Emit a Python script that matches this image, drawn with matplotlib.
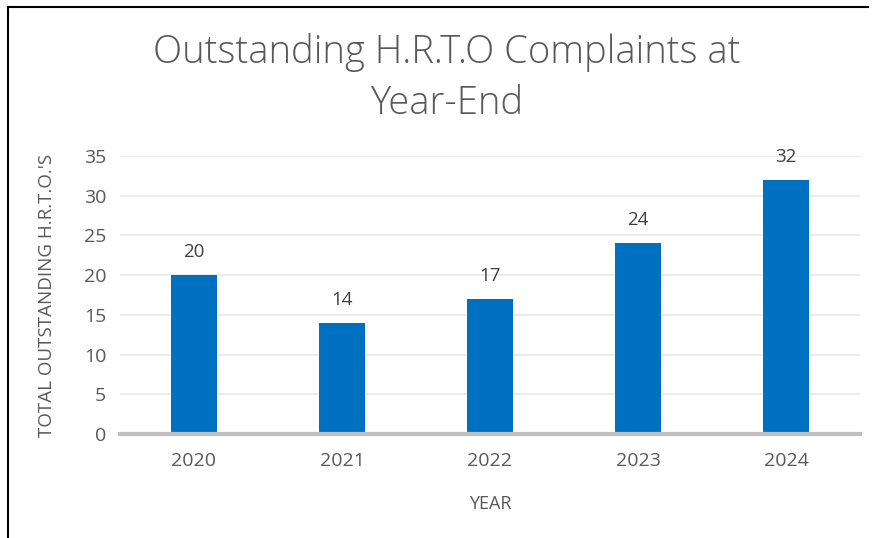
import matplotlib.pyplot as plt
from matplotlib.lines import Line2D

years = ["2020", "2021", "2022", "2023", "2024"]
outstanding = [20, 14, 17, 24, 32]
y_ticks = [0, 5, 10, 15, 20, 25, 30, 35]

plt.rcParams['font.family'] = ['Open Sans', 'DejaVu Sans']

W, H = 875, 538
fig = plt.figure(figsize=(W / 100, H / 100), dpi=100)
ax = fig.add_axes([120 / W, 1 - 434 / H, 740 / W, 278 / H])

x = range(len(years))
ax.bar(x, outstanding, width=0.31, color='#0070c0', zorder=3)
for xi, v in zip(x, outstanding):
    ax.annotate(str(v), (xi, v), xytext=(0, 10), textcoords='offset points',
                ha='center', va='bottom', fontsize=13.5, color='#404040')

ax.set_xlim(-0.5, len(years) - 0.5)
ax.set_ylim(0, 35)
ax.set_yticks(y_ticks)
ax.set_xticks(list(x))
ax.set_xticklabels(years)
ax.tick_params(axis='both', length=0, labelsize=14, labelcolor='#595959')
ax.tick_params(axis='x', pad=13)
ax.tick_params(axis='y', pad=10)
ax.grid(axis='y', color='#e8e8e8', linewidth=1.2, zorder=0)
for s in ['top', 'right', 'left']:
    ax.spines[s].set_visible(False)
ax.spines['bottom'].set_color('#bfbfbf')
ax.spines['bottom'].set_linewidth(3)
ax.spines['bottom'].set_zorder(4)

ax.set_xlabel("YEAR", fontsize=13, color='#595959', labelpad=18)
ax.set_ylabel("TOTAL OUTSTANDING H.R.T.O.'S", fontsize=13.5, color='#595959', labelpad=20)

fig.text(447 / W, 1 - 78 / H, "Outstanding H.R.T.O Complaints at\nYear-End",
         ha='center', va='center', fontsize=27.5, color='#595959',
         fontweight='light', linespacing=1.4)

# outer frame (left and top only)
fig.add_artist(Line2D([8 / W, 8 / W], [0, 1 - 7 / H], color='black', linewidth=1.5))
fig.add_artist(Line2D([8 / W, 868 / W], [1 - 7 / H, 1 - 7 / H], color='black', linewidth=1.5))

fig.savefig("out.png", dpi=100)
